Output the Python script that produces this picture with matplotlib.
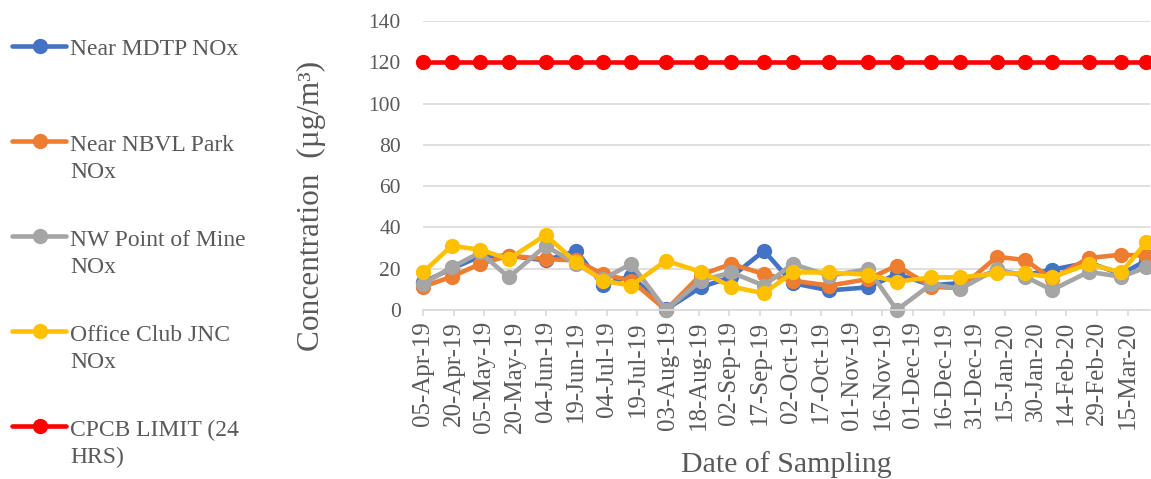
import matplotlib
matplotlib.use("Agg")
import matplotlib.pyplot as plt
import matplotlib.dates as mdates
from matplotlib.ticker import FixedLocator
from matplotlib.lines import Line2D
import numpy as np
import pandas as pd

plt.rcParams['font.family'] = ['Liberation Serif', 'DejaVu Serif']

# sampling dates (irregular)
dates = pd.to_datetime([
    '2019-04-05', '2019-04-19', '2019-05-03', '2019-05-17', '2019-06-04',
    '2019-06-19', '2019-07-02', '2019-07-16', '2019-08-02', '2019-08-19',
    '2019-09-03', '2019-09-19', '2019-10-03', '2019-10-21', '2019-11-09',
    '2019-11-23', '2019-12-10', '2019-12-24', '2020-01-11', '2020-01-25',
    '2020-02-07', '2020-02-25', '2020-03-12', '2020-03-24'])

mdtp = [13.4, 20.0, 26.0, 26.3, 24.0, 28.7, 12.0, 16.6, 0.3, 11.0, 16.0, 28.7,
        13.0, 9.5, 11.0, 17.4, 12.0, 13.0, 19.0, 17.0, 19.5, 23.0, 17.4, 23.9]
nbvl = [11.3, 16.1, 22.3, 26.3, 24.7, 24.0, 17.4, 14.2, 0.0, 17.0, 22.3, 17.4,
        14.2, 11.8, 15.0, 21.5, 11.3, 10.5, 25.8, 24.2, 15.0, 25.2, 26.8, 26.3]
nw_mine = [12.6, 20.6, 27.9, 15.8, 31.1, 22.3, 15.0, 22.3, 0.0, 14.2, 18.2, 11.8,
           22.3, 16.6, 19.8, 0.0, 12.6, 10.2, 19.8, 16.1, 9.7, 18.5, 16.1, 20.6]
jnc = [18.2, 31.1, 29.2, 24.7, 36.3, 23.1, 14.2, 11.8, 23.9, 18.5, 11.3, 8.1,
       18.2, 18.2, 17.1, 13.7, 15.8, 15.8, 17.7, 17.7, 15.8, 22.3, 18.2, 32.7]
cpcb = [120] * 24

# x ticks every 15 days starting at the first sample
tick_dates = pd.date_range('2019-04-05', periods=24, freq='15D')

series = [
    ("Near MDTP NOx", mdtp, "#4472C4"),
    ("Near NBVL Park\nNOx", nbvl, "#ED7D31"),
    ("NW Point of Mine\nNOx", nw_mine, "#A5A5A5"),
    ("Office Club JNC\nNOx", jnc, "#FFC000"),
    ("CPCB LIMIT (24\nHRS)", cpcb, "#FF0000"),
]

W, H = 1151, 479
fig = plt.figure(figsize=(W / 100, H / 100), dpi=100)
ax = fig.add_axes([423 / W, 1 - 310 / H, (1150 - 423) / W, (310 - 21) / H])

txt = "#595959"
grid = "#D9D9D9"

for label, vals, col in series:
    ax.plot(dates, vals, color=col, lw=3.3, marker='o', ms=10, clip_on=False,
            solid_capstyle='round')

ax.set_ylim(0, 140)
ax.set_yticks(np.arange(0, 141, 20))
ax.set_xlim(pd.Timestamp('2019-04-05'), pd.Timestamp('2020-03-26'))
ax.xaxis.set_major_locator(FixedLocator(mdates.date2num(tick_dates)))
ax.xaxis.set_major_formatter(mdates.DateFormatter('%d-%b-%y'))

ax.grid(axis='y', color=grid, lw=1.2)
ax.set_axisbelow(True)
for s in ['top', 'right', 'left']:
    ax.spines[s].set_visible(False)
ax.spines['bottom'].set_color(grid)
ax.spines['bottom'].set_linewidth(1.2)
ax.tick_params(axis='y', length=0, pad=16, labelsize=15.5, labelcolor=txt)
ax.tick_params(axis='x', length=4, width=1.2, color=grid, pad=4, labelsize=18,
               labelcolor=txt, labelrotation=90)

ax.set_ylabel("Concentration  (µg/m³)", fontsize=22.5, color=txt)
ax.yaxis.set_label_coords(-0.153, 0.36)
ax.yaxis.label.set_va('center')
ax.set_xlabel("Date of Sampling", fontsize=21.5, color=txt)
ax.xaxis.set_label_coords(0.5, -0.535)
ax.xaxis.label.set_va('center')

# legend on the left; multi-line text aligns on the last line's baseline
step = 28
for i, (label, vals, col) in enumerate(series):
    yc = 1 - (46 + 95 * i) / H
    fig.add_artist(Line2D([12 / W, 66 / W], [yc, yc], color=col, lw=3.3,
                          solid_capstyle='round', transform=fig.transFigure))
    fig.add_artist(Line2D([40 / W], [yc], color=col, marker='o', ms=10,
                          transform=fig.transFigure))
    nlines = label.count("\n")
    fig.text(70 / W, 1 - (55 + 95 * i + step * nlines) / H, label, fontsize=17,
             color=txt, va='baseline', ha='left', linespacing=1.35)

fig.savefig("out.png", dpi=100)
